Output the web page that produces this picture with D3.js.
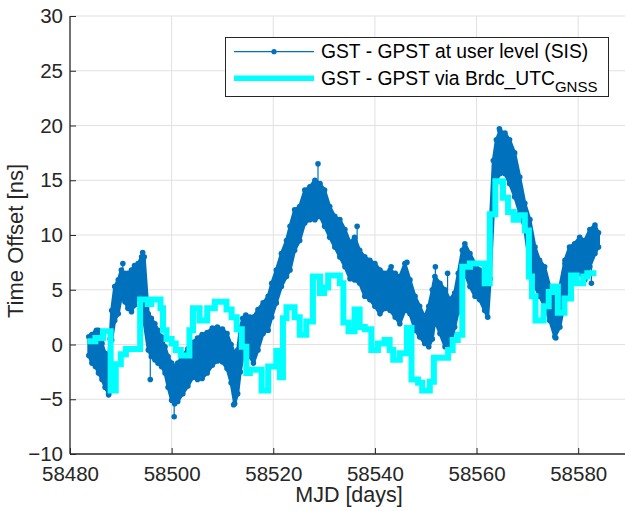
<!DOCTYPE html>
<html><head><meta charset="utf-8">
<script src="https://cdn.jsdelivr.net/npm/d3@7"></script>
<style>
html,body{margin:0;padding:0;background:#fff;}
svg{display:block;font-family:"Liberation Sans",Arial,Helvetica,sans-serif;}
</style></head>
<body>
<svg id="chart" width="625" height="511"></svg>
<script>
// ---- data ----
const xTicks = [58480, 58500, 58520, 58540, 58560, 58580];
const yTicks = [-10, -5, 0, 5, 10, 15, 20, 25, 30];
const seriesNames = ["GST - GPST at user level (SIS)", "GST - GPST via Brdc_UTC"];
const seriesSub = "GNSS";

// SIS series: envelope of the dense point cloud (day, low, high)
const sisDays = [58483.7,58484.3,58485.0,58485.6,58486.3,58486.9,58487.6,58487.9,58488.2,58488.8,58489.5,58490.1,58490.8,58491.4,58492.1,58492.7,58493.4,58494.1,58494.6,58495.4,58496.0,58496.7,58497.3,58498.0,58498.7,58499.3,58500.0,58500.6,58501.2,58502.2,58503.2,58504.2,58505.1,58506.0,58507.0,58508.0,58509.0,58510.0,58510.9,58511.7,58512.4,58513.0,58513.5,58514.0,58514.6,58515.4,58516.1,58517.0,58518.0,58519.0,58519.7,58520.6,58521.6,58522.6,58523.3,58524.2,58525.2,58526.2,58527.2,58528.2,58529.2,58530.1,58531.1,58532.1,58533.1,58534.1,58535.1,58536.0,58537.0,58538.0,58539.0,58540.0,58541.0,58542.0,58543.0,58544.0,58544.9,58545.9,58546.9,58547.9,58548.8,58549.8,58550.6,58551.3,58551.8,58552.8,58553.8,58554.7,58555.7,58556.4,58557.2,58557.7,58558.7,58559.7,58560.6,58561.6,58562.2,58562.7,58563.3,58563.9,58564.6,58565.6,58566.5,58567.5,58568.5,58569.5,58570.5,58571.5,58572.4,58573.4,58574.4,58575.4,58576.4,58577.4,58578.3,58579.3,58580.3,58581.3,58582.3,58583.3,58584.0];
const sisLow  = [-1.0,-1.7,-2.0,-2.6,-3.2,-3.9,-4.5,-4.0,0.4,2.2,2.8,4.4,3.9,3.3,3.0,3.6,4.4,5.0,2.0,-0.5,-1.1,-1.4,-1.7,-2.0,-2.6,-3.9,-5.1,-5.4,-5.2,-4.5,-3.8,-3.0,-3.2,-3.1,-2.6,-1.9,-1.5,-1.6,-2.2,-3.5,-5.4,-4.5,-2.5,-1.2,-0.8,-1.1,-1.7,-0.5,1.0,1.3,2.5,3.8,5.3,6.2,6.8,8.6,9.5,11.1,11.4,11.4,11.7,10.8,9.8,8.9,8.0,7.1,6.0,5.9,5.6,4.4,4.1,3.5,2.8,3.3,3.1,2.5,1.9,3.1,2.8,1.3,0.7,0.1,-0.2,0.5,2.2,1.0,-0.2,-0.5,1.6,3.0,5.5,6.5,5.3,4.4,4.1,3.1,2.5,6.0,12.0,15.0,15.6,15.6,14.7,13.5,12.0,10.5,7.1,5.3,4.4,3.5,2.2,0.7,1.6,4.1,5.3,5.9,6.5,5.9,7.1,8.3,8.9];
const sisHigh = [0.7,0.9,1.1,1.3,0.1,-0.8,-1.1,0.5,3.1,5.3,5.9,6.8,6.5,6.5,6.8,7.2,7.4,8.0,8.0,2.8,2.4,1.9,1.3,0.7,-0.2,-1.1,-1.7,-2.0,-1.7,-1.0,-0.4,0.2,0.6,0.9,1.1,1.5,1.6,1.4,1.0,0.0,-0.8,-0.5,1.5,2.4,2.7,2.5,2.5,3.2,3.8,4.4,5.6,6.8,8.3,9.5,10.8,12.3,12.6,14.1,14.4,15.0,14.7,14.1,12.6,11.7,11.4,10.5,9.3,9.8,8.6,8.0,7.7,7.4,6.8,6.5,6.8,6.5,6.2,7.4,5.9,4.4,3.5,2.5,3.5,5.0,6.2,5.6,5.0,4.1,4.7,6.5,8.6,9.2,8.3,7.4,6.8,6.2,5.0,11.0,16.8,18.7,19.5,19.3,18.7,17.5,15.3,12.9,11.4,8.9,7.7,7.1,5.3,4.7,5.3,7.7,8.9,9.2,9.8,9.5,10.5,10.9,10.2];
// isolated SIS points sticking out of the cloud
const spikeDays   = [58485.2,58487.6,58490.4,58494.3,58495.8,58500.5,58512.2,58524.5,58528.8,58536.5,58543.2,58546.3,58551.9,58554.3,58564.5,58575.6,58577.4,58582.6];
const spikeValues = [1.3,-4.6,7.4,8.4,-3.2,-6.6,-5.5,12.2,16.5,10.8,7.1,7.5,7.1,6.5,19.7,0.6,7.4,5.6];

// Broadcast UTC_GNSS series (stairs)
const brdcDays = [58484.0,58485.0,58486.5,58488.0,58489.0,58490.0,58491.0,58493.8,58495.3,58496.0,58497.8,58498.3,58499.0,58500.0,58500.8,58501.8,58503.5,58504.2,58505.5,58507.0,58508.5,58510.8,58511.8,58512.8,58513.8,58514.7,58515.4,58517.7,58519.0,58520.6,58521.3,58521.9,58522.6,58524.2,58525.2,58526.5,58527.8,58529.2,58530.0,58530.8,58533.1,58533.8,58534.8,58536.0,58537.0,58538.0,58539.3,58540.6,58541.9,58542.9,58543.6,58544.9,58546.3,58547.2,58548.5,58549.3,58550.8,58551.6,58554.4,58555.3,58556.3,58557.2,58558.7,58561.6,58562.6,58563.7,58565.2,58566.2,58567.3,58568.2,58569.5,58570.3,58570.9,58571.6,58573.2,58574.2,58575.0,58576.0,58577.3,58578.6,58579.7,58581.0,58581.8,58583.0];
const brdcValues = [0.3,0.6,1.2,-4.2,-1.8,-0.9,-0.4,4.1,3.7,4.1,3.3,1.3,0.5,0.1,-0.5,-1.0,1.3,3.3,2.2,3.3,3.9,3.2,2.5,1.4,-0.2,-2.6,-2.3,-4.2,-2.0,-0.6,-3.0,2.4,3.4,2.5,0.9,2.1,6.2,4.7,5.2,6.3,5.6,2.0,1.2,3.2,1.6,1.4,-0.5,0.1,0.4,-0.5,-1.4,-0.8,1.5,-3.2,-3.5,-4.2,-3.4,-1.2,-0.5,0.4,0.9,7.1,7.4,5.6,11.9,14.9,13.4,12.1,11.4,11.8,10.4,6.2,4.4,2.2,3.5,4.8,5.3,2.9,4.2,6.3,5.6,6.2,6.5,6.5];

// ---- drawing ----
const BLUE = "#0072BD", CYAN = "#00FFFF", AX = "#262626", GRID = "#e1e1e1";
const svg = d3.select("#chart");
const L = 70, R = 629, T = 16, B = 454;
const x = d3.scaleLinear().domain([58480, 58590]).range([L, R]);
const y = d3.scaleLinear().domain([-10, 30]).range([B, T]);

svg.append("defs").append("clipPath").attr("id","clip")
  .append("rect").attr("x",L).attr("y",T).attr("width",R-L).attr("height",B-T);

// grid
const g = svg.append("g");
g.selectAll(".gx").data(xTicks.filter(d=>d>58480)).join("line")
  .attr("x1",d=>x(d)).attr("x2",d=>x(d)).attr("y1",T).attr("y2",B)
  .attr("stroke",GRID).attr("stroke-width",1);
g.selectAll(".gy").data(yTicks.filter(d=>d>-10)).join("line")
  .attr("x1",L).attr("x2",R).attr("y1",d=>y(d)).attr("y2",d=>y(d))
  .attr("stroke",GRID).attr("stroke-width",1);

const plot = svg.append("g").attr("clip-path","url(#clip)");

// SIS cloud
const sis = sisDays.map((d,i)=>({d, lo: sisLow[i], hi: sisHigh[i]}));
plot.append("path").datum(sis)
  .attr("d", d3.area().x(p=>x(p.d)).y0(p=>y(p.lo)).y1(p=>y(p.hi)))
  .attr("fill", BLUE).attr("stroke", BLUE).attr("stroke-width", 3).attr("stroke-linejoin","round");
// markers along edges
const edgePts = [];
sis.forEach(p=>{ edgePts.push([p.d,p.lo]); edgePts.push([p.d,p.hi]); });
plot.selectAll(".ep").data(edgePts).join("circle")
  .attr("cx",p=>x(p[0])).attr("cy",p=>y(p[1])).attr("r",2.8).attr("fill",BLUE);

// spikes with stems to nearest cloud edge
const bis = d3.bisector(p=>p.d).center;
spikeDays.forEach((d,i)=>{
  const v = spikeValues[i];
  const p = sis[bis(sis, d)];
  const base = Math.abs(v-p.hi) < Math.abs(v-p.lo) ? p.hi : p.lo;
  plot.append("line").attr("x1",x(d)).attr("x2",x(d)).attr("y1",y(base)).attr("y2",y(v))
    .attr("stroke",BLUE).attr("stroke-width",1.2);
  plot.append("circle").attr("cx",x(d)).attr("cy",y(v)).attr("r",2.8).attr("fill",BLUE);
});

// Brdc stairs
const brdc = brdcDays.map((d,i)=>[d, brdcValues[i]]);
plot.append("path").datum(brdc)
  .attr("d", d3.line().curve(d3.curveStepAfter).x(p=>x(p[0])).y(p=>y(p[1])))
  .attr("fill","none").attr("stroke",CYAN).attr("stroke-width",6)
  .attr("stroke-linejoin","miter").attr("stroke-linecap","square");

// axes
const xAxis = svg.append("g").attr("transform",`translate(0,${B})`)
  .call(d3.axisBottom(x).tickValues(xTicks).tickFormat(d3.format("d")).tickSizeInner(-6).tickSizeOuter(0).tickPadding(12));
const yAxis = svg.append("g").attr("transform",`translate(${L},0)`)
  .call(d3.axisLeft(y).tickValues(yTicks).tickFormat(d3.format("d")).tickSizeInner(-6).tickSizeOuter(0).tickPadding(7));
[xAxis,yAxis].forEach(a=>{
  a.select(".domain").attr("stroke",AX).attr("stroke-width",1.3);
  a.selectAll(".tick line").attr("stroke",AX).attr("stroke-width",1);
  a.selectAll(".tick text").attr("fill",AX).style("font-size","20.5px")
   .style("font-family",'"Liberation Sans",Arial,sans-serif');
});
xAxis.select(".domain").attr("d",`M${L},0H${R}`);
yAxis.select(".domain").attr("d",`M0,${T}V${B}`);

// axis titles
svg.append("text").attr("x",349).attr("y",502).attr("text-anchor","middle")
  .attr("fill",AX).style("font-size","21.5px").text("MJD [days]");
svg.append("text").attr("transform",`translate(23,241) rotate(-90)`).attr("text-anchor","middle")
  .attr("fill",AX).style("font-size","22px").text("Time Offset [ns]");

// legend
const lg = svg.append("g");
lg.append("rect").attr("x",225.5).attr("y",37.5).attr("width",383).attr("height",59)
  .attr("fill","#fff").attr("stroke",AX).attr("stroke-width",1);
lg.append("line").attr("x1",234).attr("x2",314).attr("y1",51.7).attr("y2",51.7)
  .attr("stroke",BLUE).attr("stroke-width",1.2);
lg.append("circle").attr("cx",274).attr("cy",51.7).attr("r",2.6).attr("fill",BLUE);
lg.append("line").attr("x1",234).attr("x2",314).attr("y1",78.3).attr("y2",78.3)
  .attr("stroke",CYAN).attr("stroke-width",5.5);
lg.append("text").attr("x",321).attr("y",58).attr("fill","#000").style("font-size","19.3px").text(seriesNames[0]);
const t2 = lg.append("text").attr("x",321).attr("y",84.5).attr("fill","#000").style("font-size","19.3px");
t2.append("tspan").text(seriesNames[1]);
t2.append("tspan").attr("dy",7.5).style("font-size","15px").text(seriesSub);
</script>
</body></html>
